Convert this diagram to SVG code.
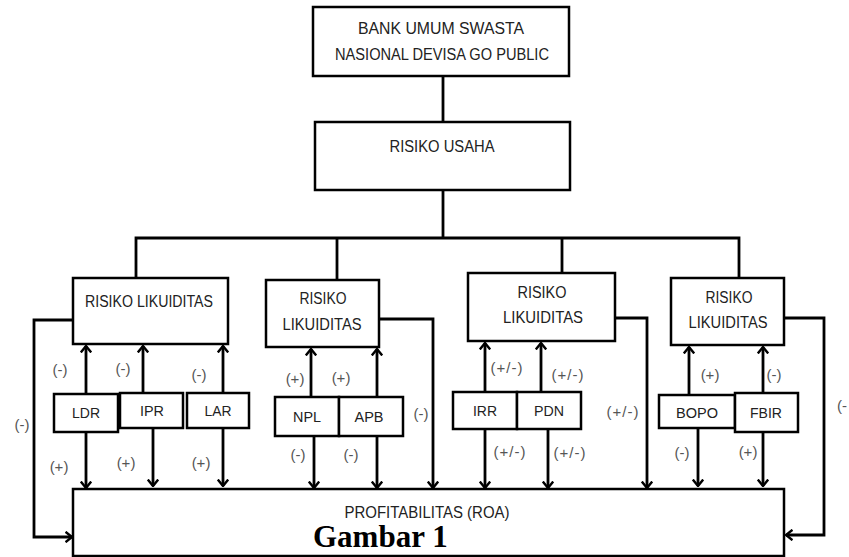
<svg xmlns="http://www.w3.org/2000/svg" width="849" height="557" viewBox="0 0 849 557">
<style>
.box{fill:#fff;stroke:#000;stroke-width:2.5}
.t{font-family:"Liberation Sans",Arial,sans-serif;font-size:16px;fill:#222;text-anchor:middle}
.s{font-family:"Liberation Sans",Arial,sans-serif;font-size:15px;fill:#222;text-anchor:middle}
.l{font-family:"Liberation Sans",Arial,sans-serif;font-size:15px;fill:#555;text-anchor:middle}
.c{fill:none;stroke:#000;stroke-width:2.8}
.a{fill:none;stroke:#000;stroke-width:2.8;marker-end:url(#ah)}
</style>
<defs>
<marker id="ah" viewBox="0 0 8 12" refX="7" refY="6" markerWidth="8" markerHeight="12" markerUnits="userSpaceOnUse" orient="auto">
<path d="M0.5,0.8 L7,6 L0.5,11.2" fill="none" stroke="#000" stroke-width="2.4"/>
</marker>
</defs>
<rect width="849" height="557" fill="#fff"/>
<g id="connectors">
<line class="c" x1="443" y1="76" x2="443" y2="122"/>
<line class="c" x1="443" y1="190" x2="443" y2="238"/>
<polyline class="c" points="136,278 136,238 739,238 739,278"/>
<line class="c" x1="337" y1="238" x2="337" y2="280"/>
<line class="c" x1="562" y1="238" x2="562" y2="273"/>
<polyline class="a" points="73,320 34,320 34,537 72,537"/>
<polyline class="a" points="379,319 433,319 433,488"/>
<polyline class="a" points="615,318 647,318 647,488"/>
<polyline class="a" points="784,318 824,318 824,535 786,535"/>
<line class="a" x1="86" y1="394" x2="86" y2="346"/>
<line class="a" x1="143" y1="393" x2="143" y2="346"/>
<line class="a" x1="223" y1="393" x2="223" y2="346"/>
<line class="a" x1="311" y1="397" x2="311" y2="349"/>
<line class="a" x1="377" y1="397" x2="377" y2="349"/>
<line class="a" x1="485" y1="392" x2="485" y2="343"/>
<line class="a" x1="541" y1="392" x2="541" y2="343"/>
<line class="a" x1="689" y1="395" x2="689" y2="347"/>
<line class="a" x1="763" y1="393" x2="763" y2="347"/>
<line class="a" x1="86" y1="432" x2="86" y2="488"/>
<line class="a" x1="153" y1="428" x2="153" y2="486"/>
<line class="a" x1="223" y1="428" x2="223" y2="486"/>
<line class="a" x1="314" y1="436" x2="314" y2="488"/>
<line class="a" x1="377" y1="436" x2="377" y2="488"/>
<line class="a" x1="485" y1="429" x2="485" y2="488"/>
<line class="a" x1="548" y1="429" x2="548" y2="488"/>
<line class="a" x1="698" y1="428" x2="698" y2="486"/>
<line class="a" x1="763" y1="432" x2="763" y2="486"/>
</g>
<g id="bank">
<rect class="box" x="313" y="7" width="256" height="69"/>
<text class="t" x="441" y="34" textLength="166" lengthAdjust="spacingAndGlyphs">BANK UMUM SWASTA</text>
<text class="t" x="442" y="60" textLength="214" lengthAdjust="spacingAndGlyphs">NASIONAL DEVISA GO PUBLIC</text>
</g>
<g id="risiko-usaha">
<rect class="box" x="315" y="122" width="255" height="68"/>
<text class="t" x="442" y="152" textLength="105" lengthAdjust="spacingAndGlyphs">RISIKO USAHA</text>
</g>
<g id="rl1">
<rect class="box" x="73" y="278" width="155" height="66"/>
<text class="t" x="149" y="307" textLength="128" lengthAdjust="spacingAndGlyphs">RISIKO LIKUIDITAS</text>
</g>
<g id="rl2">
<rect class="box" x="266" y="280" width="113" height="67"/>
<text class="t" x="323" y="304" textLength="47" lengthAdjust="spacingAndGlyphs">RISIKO</text>
<text class="t" x="322" y="330" textLength="79" lengthAdjust="spacingAndGlyphs">LIKUIDITAS</text>
</g>
<g id="rl3">
<rect class="box" x="468" y="273" width="147" height="68"/>
<text class="t" x="542" y="298" textLength="49" lengthAdjust="spacingAndGlyphs">RISIKO</text>
<text class="t" x="543" y="323" textLength="80" lengthAdjust="spacingAndGlyphs">LIKUIDITAS</text>
</g>
<g id="rl4">
<rect class="box" x="671" y="278" width="113" height="67"/>
<text class="t" x="729" y="303" textLength="47" lengthAdjust="spacingAndGlyphs">RISIKO</text>
<text class="t" x="728" y="328" textLength="79" lengthAdjust="spacingAndGlyphs">LIKUIDITAS</text>
</g>
<g id="ldr"><rect class="box" x="54" y="394" width="64" height="38"/><text class="s" x="86" y="418" textLength="28" lengthAdjust="spacingAndGlyphs">LDR</text></g>
<g id="ipr"><rect class="box" x="120" y="393" width="63" height="35"/><text class="s" x="152" y="416" textLength="24" lengthAdjust="spacingAndGlyphs">IPR</text></g>
<g id="lar"><rect class="box" x="187" y="393" width="62" height="35"/><text class="s" x="218" y="416" textLength="27" lengthAdjust="spacingAndGlyphs">LAR</text></g>
<g id="npl"><rect class="box" x="275" y="397" width="64" height="39"/><text class="s" x="307" y="422" textLength="28" lengthAdjust="spacingAndGlyphs">NPL</text></g>
<g id="apb"><rect class="box" x="339" y="397" width="64" height="39"/><text class="s" x="369" y="422" textLength="29" lengthAdjust="spacingAndGlyphs">APB</text></g>
<g id="irr"><rect class="box" x="453" y="392" width="64" height="37"/><text class="s" x="485" y="416" textLength="24" lengthAdjust="spacingAndGlyphs">IRR</text></g>
<g id="pdn"><rect class="box" x="517" y="392" width="64" height="37"/><text class="s" x="549" y="416" textLength="30" lengthAdjust="spacingAndGlyphs">PDN</text></g>
<g id="bopo"><rect class="box" x="659" y="395" width="76" height="33"/><text class="s" x="697" y="418" textLength="42" lengthAdjust="spacingAndGlyphs">BOPO</text></g>
<g id="fbir"><rect class="box" x="735" y="393" width="63" height="39"/><text class="s" x="766" y="418" textLength="32" lengthAdjust="spacingAndGlyphs">FBIR</text></g>
<g id="profitabilitas">
<rect class="box" x="73" y="489" width="711" height="67"/>
<text class="t" x="427" y="518" textLength="165" lengthAdjust="spacingAndGlyphs">PROFITABILITAS (ROA)</text>
<text x="313" y="547" font-family="'Liberation Serif','Times New Roman',serif" font-weight="bold" font-size="31" fill="#000">Gambar 1</text>
</g>
<g id="labels">
<text class="l" x="22" y="430">(-)</text>
<text class="l" x="60" y="375">(-)</text>
<text class="l" x="123" y="374">(-)</text>
<text class="l" x="199" y="380">(-)</text>
<text class="l" x="59" y="472">(+)</text>
<text class="l" x="126" y="468">(+)</text>
<text class="l" x="201" y="468">(+)</text>
<text class="l" x="295" y="384">(+)</text>
<text class="l" x="341" y="383">(+)</text>
<text class="l" x="298" y="460">(-)</text>
<text class="l" x="351" y="460">(-)</text>
<text class="l" x="421" y="419">(-)</text>
<text class="l" x="507" y="373" letter-spacing="1">(+/-)</text>
<text class="l" x="568" y="380" letter-spacing="1">(+/-)</text>
<text class="l" x="510" y="457" letter-spacing="1">(+/-)</text>
<text class="l" x="570" y="458" letter-spacing="1">(+/-)</text>
<text class="l" x="623" y="417" letter-spacing="1">(+/-)</text>
<text class="l" x="710" y="380">(+)</text>
<text class="l" x="774" y="380">(-)</text>
<text class="l" x="682" y="458">(-)</text>
<text class="l" x="748" y="457">(+)</text>
<text class="l" x="837" y="411" style="text-anchor:start">(-</text>
</g>
</svg>
